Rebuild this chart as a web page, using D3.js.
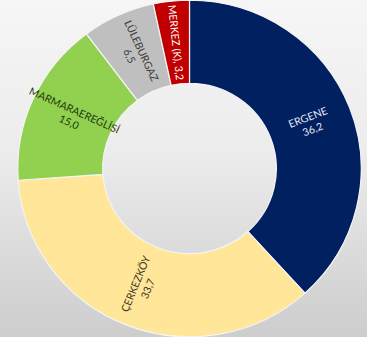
<!DOCTYPE html>
<html><head><meta charset="utf-8">
<script src="https://cdn.jsdelivr.net/npm/d3@7"></script>
<style>html,body{margin:0;padding:0;overflow:hidden;}svg{display:block;}</style>
</head><body>
<script>
const categories = ["ERGENE", "ÇERKEZKÖY", "MARMARAEREĞLİSİ", "LÜLEBURGAZ", "MERKEZ (K)"];
const values = [36.2, 33.7, 15.0, 6.5, 3.2];
const valueLabels = ["36,2", "33,7", "15,0", "6,5", "3,2"];
const colors = ["#002060", "#FFE699", "#92D050", "#BFBFBF", "#C00000"];
const textColors = ["#e4e8f2", "#3a3420", "#1f3a0c", "#3a3a3a", "#ffffff"];

const W = 367, H = 337, cx = 189.5, cy = 168.5, rOuter = 170, rInner = 86;
const svg = d3.select("body").append("svg").attr("width", W).attr("height", H);
const defs = svg.append("defs");
const g1 = defs.append("linearGradient").attr("id", "bg").attr("x1", 0).attr("y1", 0).attr("x2", 0).attr("y2", 1);
g1.append("stop").attr("offset", "0%").attr("stop-color", "#f6f6f6");
g1.append("stop").attr("offset", "45%").attr("stop-color", "#ececec");
g1.append("stop").attr("offset", "100%").attr("stop-color", "#cdcdcd");
svg.append("rect").attr("width", W).attr("height", H).attr("fill", "url(#bg)");

const data = categories.map((c, i) => ({name: c, value: values[i], label: valueLabels[i], i}));
const pie = d3.pie().value(d => d.value).sort(null);
const arcs = pie(data);
const arc = d3.arc().innerRadius(rInner).outerRadius(rOuter);
const g = svg.append("g").attr("transform", `translate(${cx},${cy}) scale(1.01,0.99)`);
g.selectAll("path").data(arcs).join("path")
  .attr("d", arc).attr("fill", d => colors[d.data.i])
  .attr("stroke", "#f4f4f4").attr("stroke-width", 1.2);

const labelR = (rInner + rOuter) / 2;
const lg = g.selectAll("g.lbl").data(arcs).join("g").attr("class", "lbl")
  .attr("transform", d => {
    const a = (d.startAngle + d.endAngle) / 2;
    const x = Math.sin(a) * labelR, y = -Math.cos(a) * labelR;
    let rot = a * 180 / Math.PI - 90;
    if (rot > 90) rot -= 180;
    return `translate(${x},${y}) rotate(${rot})`;
  });
lg.each(function(d) {
  const sel = d3.select(this);
  const col = textColors[d.data.i];
  const font = "Lato, 'Open Sans', sans-serif";
  if (d.data.i === 4) {
    sel.append("text").attr("text-anchor", "middle").attr("dy", "0.35em")
      .attr("font-family", font).attr("font-size", 10.5).attr("fill", col)
      .text(d.data.name + ", " + d.data.label);
  } else {
    sel.append("text").attr("text-anchor", "middle").attr("y", -6).attr("dy", "0.35em")
      .attr("font-family", font).attr("font-size", 10.5).attr("fill", col).text(d.data.name);
    sel.append("text").attr("text-anchor", "middle").attr("y", 7).attr("dy", "0.35em")
      .attr("font-family", font).attr("font-size", 10.5).attr("fill", col).text(d.data.label);
  }
});
</script>
</body></html>
